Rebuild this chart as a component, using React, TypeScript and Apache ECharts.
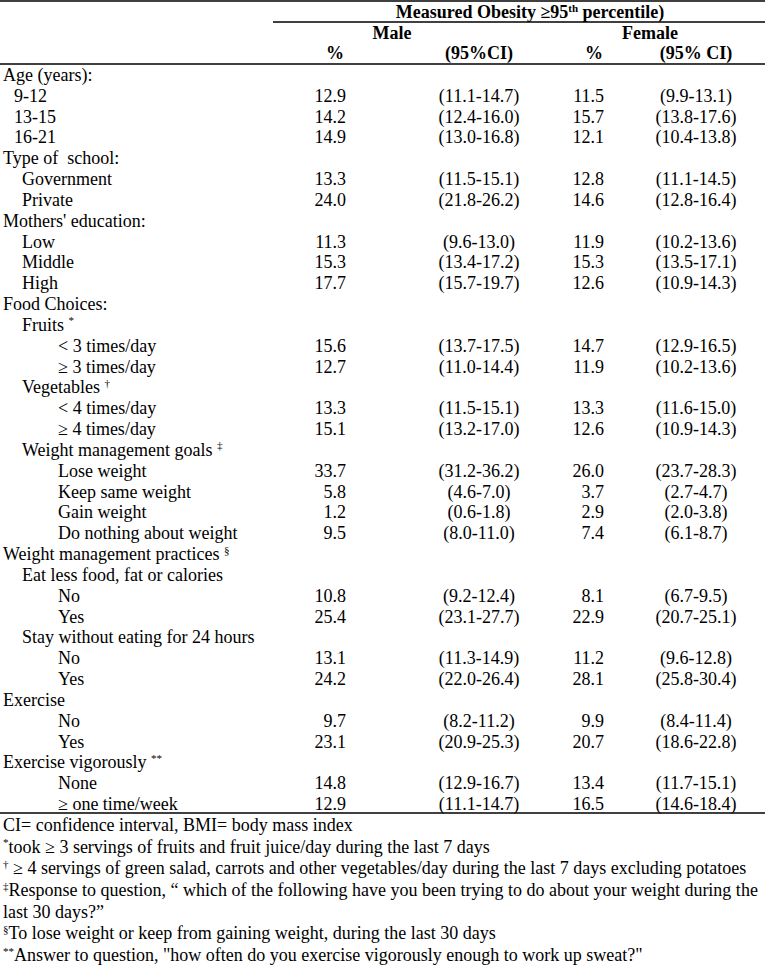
import React, { useEffect, useRef } from "react";
import * as echarts from "echarts";

// ---- data ----
const rowLabels: string[] = [
  "Age (years):", "9-12", "13-15", "16-21",
  "Type of  school:", "Government", "Private",
  "Mothers' education:", "Low", "Middle", "High",
  "Food Choices:", "Fruits", "< 3 times/day", "≥ 3 times/day",
  "Vegetables", "< 4 times/day", "≥ 4 times/day",
  "Weight management goals", "Lose weight", "Keep same weight", "Gain weight", "Do nothing about weight",
  "Weight management practices", "Eat less food, fat or calories", "No", "Yes",
  "Stay without eating for 24 hours", "No", "Yes",
  "Exercise", "No", "Yes",
  "Exercise vigorously", "None", "≥ one time/week",
];
// h = heading, d = age sub-row, s = sub-heading / sub-row, ss = sub-sub-row
const rowLevels: string[] = [
  "h", "d", "d", "d",
  "h", "s", "s",
  "h", "s", "s", "s",
  "h", "s", "ss", "ss",
  "s", "ss", "ss",
  "s", "ss", "ss", "ss", "ss",
  "h", "s", "ss", "ss",
  "s", "ss", "ss",
  "h", "ss", "ss",
  "h", "ss", "ss",
];
const rowMarks: string[] = [
  "", "", "", "",
  "", "", "",
  "", "", "", "",
  "", "*", "", "",
  "†", "", "",
  "‡", "", "", "", "",
  "§", "", "",
  "", "", "", "",
  "", "", "",
  "**", "", "",
];
const malePct: (string | null)[] = [
  null, "12.9", "14.2", "14.9",
  null, "13.3", "24.0",
  null, "11.3", "15.3", "17.7",
  null, null, "15.6", "12.7",
  null, "13.3", "15.1",
  null, "33.7", "5.8", "1.2", "9.5",
  null, null, "10.8", "25.4",
  null, "13.1", "24.2",
  null, "9.7", "23.1",
  null, "14.8", "12.9",
];
const maleCI: (string | null)[] = [
  null, "(11.1-14.7)", "(12.4-16.0)", "(13.0-16.8)",
  null, "(11.5-15.1)", "(21.8-26.2)",
  null, "(9.6-13.0)", "(13.4-17.2)", "(15.7-19.7)",
  null, null, "(13.7-17.5)", "(11.0-14.4)",
  null, "(11.5-15.1)", "(13.2-17.0)",
  null, "(31.2-36.2)", "(4.6-7.0)", "(0.6-1.8)", "(8.0-11.0)",
  null, null, "(9.2-12.4)", "(23.1-27.7)",
  null, "(11.3-14.9)", "(22.0-26.4)",
  null, "(8.2-11.2)", "(20.9-25.3)",
  null, "(12.9-16.7)", "(11.1-14.7)",
];
const femalePct: (string | null)[] = [
  null, "11.5", "15.7", "12.1",
  null, "12.8", "14.6",
  null, "11.9", "15.3", "12.6",
  null, null, "14.7", "11.9",
  null, "13.3", "12.6",
  null, "26.0", "3.7", "2.9", "7.4",
  null, null, "8.1", "22.9",
  null, "11.2", "28.1",
  null, "9.9", "20.7",
  null, "13.4", "16.5",
];
const femaleCI: (string | null)[] = [
  null, "(9.9-13.1)", "(13.8-17.6)", "(10.4-13.8)",
  null, "(11.1-14.5)", "(12.8-16.4)",
  null, "(10.2-13.6)", "(13.5-17.1)", "(10.9-14.3)",
  null, null, "(12.9-16.5)", "(10.2-13.6)",
  null, "(11.6-15.0)", "(10.9-14.3)",
  null, "(23.7-28.3)", "(2.7-4.7)", "(2.0-3.8)", "(6.1-8.7)",
  null, null, "(6.7-9.5)", "(20.7-25.1)",
  null, "(9.6-12.8)", "(25.8-30.4)",
  null, "(8.4-11.4)", "(18.6-22.8)",
  null, "(11.7-15.1)", "(14.6-18.4)",
];
const headerTitle = ["Measured Obesity ≥95", "th", " percentile)"];
const headerGroups = ["Male", "Female"];
const headerCols = ["%", "(95%CI)", "%", "(95% CI)"];
const footMarks: string[] = ["", "*", "†", "‡", "", "§", "**"];
const footTexts: string[] = [
  "CI= confidence interval, BMI= body mass index",
  "took ≥ 3 servings of fruits and fruit juice/day during the last 7 days",
  " ≥ 4 servings of green salad, carrots and other vegetables/day during the last 7 days excluding potatoes",
  "Response to question, “ which of the following have you been trying to do about your weight during the",
  "last 30 days?”",
  "To lose weight or keep from gaining weight, during the last 30 days",
  "Answer to question, \"how often do you exercise vigorously enough to work up sweat?\"",
];

// ---- layout ----
const W = 765;
const H = 967;
const FONT = "'Liberation Serif', 'Times New Roman', serif";
const FS = 18;
const INDENT: Record<string, number> = { h: 3, d: 14, s: 22, ss: 58 };
const ROW0 = 75;
const ROW_STEP = (804 - 75) / 35;
const FOOT0 = 825;
const FOOT_STEP = (955 - 825) / 6;
const X_MPCT = 346;
const X_MCI = 479;
const X_FPCT = 604;
const X_FCI = 696;

const richStyles = (bold: boolean) => ({
  n: { fontSize: FS, fontFamily: FONT, fontWeight: bold ? "bold" : "normal", fill: "#000", lineHeight: 20 },
  sup: { fontSize: 11, fontFamily: FONT, fontWeight: bold ? "bold" : "normal", fill: "#000", verticalAlign: "top", lineHeight: 20 },
});

function textEl(x: number, y: number, text: string, align: string, bold = false) {
  return {
    type: "text",
    x,
    y,
    style: {
      text,
      fontSize: FS,
      fontFamily: FONT,
      fontWeight: bold ? "bold" : "normal",
      fill: "#000",
      align,
      verticalAlign: "middle",
    },
  };
}

function richEl(x: number, y: number, text: string, align: string, bold = false) {
  return {
    type: "text",
    x,
    y,
    style: {
      text,
      rich: richStyles(bold),
      fontSize: FS,
      fontFamily: FONT,
      fill: "#000",
      align,
      verticalAlign: "middle",
    },
  };
}

function lineEl(x1: number, y1: number, x2: number, y2: number) {
  return {
    type: "line",
    shape: { x1, y1, x2, y2 },
    style: { stroke: "#000", lineWidth: 1.3 },
  };
}

export default function App() {
  const ref = useRef<HTMLDivElement>(null);
  useEffect(() => {
    document.body.style.margin = "0";
    if (!ref.current) return;
    const chart = echarts.init(ref.current, undefined, { renderer: "svg" });
    const els: any[] = [];
    // rules
    els.push(lineEl(0, 1, W, 1));
    els.push(lineEl(273, 22, W, 22));
    els.push(lineEl(0, 64, W, 64));
    els.push(lineEl(0, 813, W, 813));
    // header
    els.push(
      richEl(530, 12, `{n|${headerTitle[0]}}{sup|${headerTitle[1]}}{n|${headerTitle[2]}}`, "center", true)
    );
    els.push(textEl(392, 33, headerGroups[0], "center", true));
    els.push(textEl(650, 33, headerGroups[1], "center", true));
    els.push(textEl(335, 53, headerCols[0], "center", true));
    els.push(textEl(X_MCI, 53, headerCols[1], "center", true));
    els.push(textEl(594, 53, headerCols[2], "center", true));
    els.push(textEl(X_FCI, 53, headerCols[3], "center", true));
    // body rows
    rowLabels.forEach((lab, i) => {
      const y = ROW0 + i * ROW_STEP;
      const x = INDENT[rowLevels[i]];
      const mark = rowMarks[i];
      const t = mark ? `{n|${lab} }{sup|${mark}}` : `{n|${lab}}`;
      els.push(richEl(x, y, t, "left"));
      if (malePct[i] != null) els.push(textEl(X_MPCT, y, malePct[i] as string, "right"));
      if (maleCI[i] != null) els.push(textEl(X_MCI, y, maleCI[i] as string, "center"));
      if (femalePct[i] != null) els.push(textEl(X_FPCT, y, femalePct[i] as string, "right"));
      if (femaleCI[i] != null) els.push(textEl(X_FCI, y, femaleCI[i] as string, "center"));
    });
    // footnotes
    footTexts.forEach((t, i) => {
      const y = FOOT0 + i * FOOT_STEP;
      const m = footMarks[i];
      const txt = m ? `{sup|${m}}{n|${t}}` : `{n|${t}}`;
      els.push(richEl(3, y, txt, "left"));
    });

    chart.setOption({
      animation: false,
      backgroundColor: "#fff",
      graphic: { elements: els },
    });
    return () => chart.dispose();
  }, []);
  return <div ref={ref} style={{ width: W, height: H }} />;
}
